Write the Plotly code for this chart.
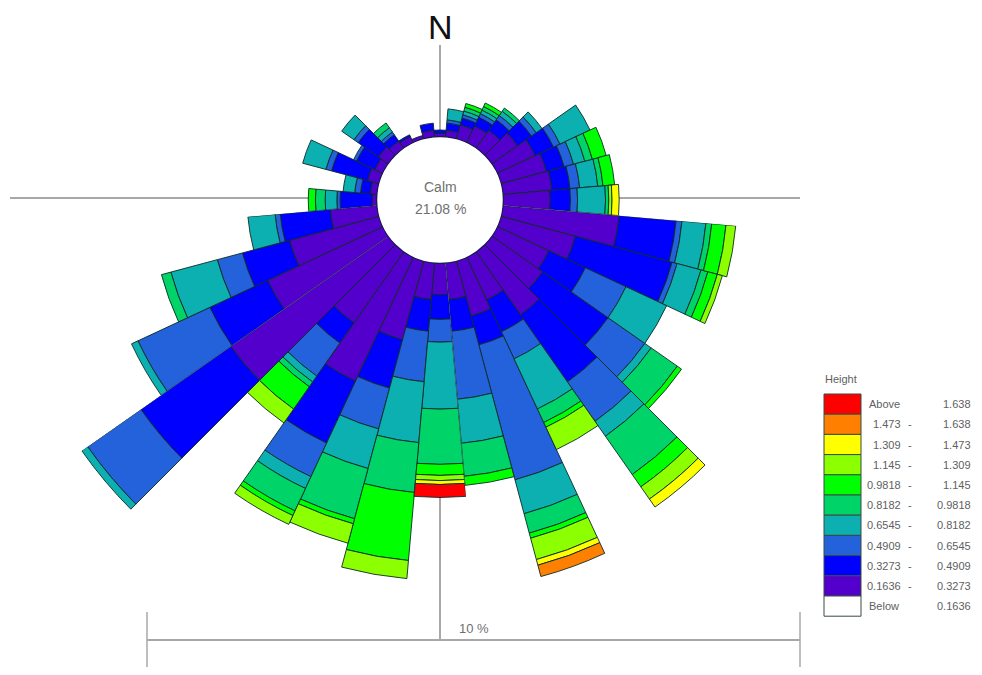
import math
import plotly.graph_objects as go

OFF = 8                      # page body margin of the html page; positions below are window pixels
W, H = 982 - OFF, 675 - 2 * OFF

# ---------------- data ----------------
directions = [0, 10, 20, 30, 40, 50, 60, 70, 80, 90, 100, 110, 120, 130, 140, 150, 160, 170,
              180, 190, 200, 210, 220, 230, 240, 250, 260, 270, 280, 290, 300, 310, 320, 330, 340, 350]

class_labels = ["Below 0.1636", "0.1636 - 0.3273", "0.3273 - 0.4909", "0.4909 - 0.6545",
                "0.6545 - 0.8182", "0.8182 - 0.9818", "0.9818 - 1.145", "1.145 - 1.309",
                "1.309 - 1.473", "1.473 - 1.638", "Above 1.638"]
legend_left = ["Below", "0.1636", "0.3273", "0.4909", "0.6545", "0.8182",
               "0.9818", "1.145", "1.309", "1.473", "Above"]
legend_right = ["0.1636", "0.3273", "0.4909", "0.6545", "0.8182", "0.9818",
                "1.145", "1.309", "1.473", "1.638", "1.638"]
class_colors = ["#ffffff", "#5400cc", "#0000ff", "#2462dc", "#0cb0b0", "#00d468",
                "#00ff00", "#8cff00", "#ffff00", "#ff8000", "#ff0000"]

# frequency (%) per direction for each class
freq_below = [0, 0, 0, 0, 0, 0, 0, 0, 0, 0, 0, 0, 0, 0, 0, 0, 0, 0,
              0, 0, 0, 0, 0, 0, 0, 0, 0, 0, 0, 0, 0, 0, 0, 0, 0, 0]
freq_p = [0.05, 0.10, 0.22, 0.28, 0.33, 0.48, 0.64, 0.72, 0.75, 0.72, 1.79, 1.18, 0.87, 0.95, 1.18, 0.72, 0.87, 0.56,
          0.48, 0.56, 1.25, 2.10, 1.33, 2.95, 1.95, 1.42, 0.72, 0.07, 0.10, 0.18, 0.13, 0.18, 0.13, 0.10, 0.05, 0.10]
freq_b = [0.05, 0.11, 0.11, 0.15, 0.20, 0.26, 0.31, 0.28, 0.28, 0.31, 0.88, 1.54, 0.62, 1.23, 1.26, 0.54, 0.46, 0.49,
          0.38, 0.49, 0.77, 1.05, 0.38, 1.69, 0.98, 0.75, 0.77, 0.49, 0.15, 0.57, 0.31, 0.38, 0.12, 0.03, 0.00, 0.11]
freq_m = [0.00, 0.05, 0.05, 0.06, 0.08, 0.09, 0.11, 0.15, 0.15, 0.11, 0.09, 0.08, 0.69, 0.69, 0.74, 0.46, 2.15, 1.05,
          0.35, 0.78, 0.65, 0.57, 0.62, 1.00, 1.22, 0.40, 0.08, 0.05, 0.09, 0.09, 0.05, 0.08, 0.05, 0.00, 0.00, 0.00]
freq_t = [0.00, 0.17, 0.06, 0.06, 0.08, 0.11, 0.51, 0.18, 0.28, 0.43, 0.37, 0.38, 0.69, 0.12, 0.28, 0.85, 0.54, 0.68,
          1.03, 0.94, 0.63, 0.20, 0.11, 0.11, 0.11, 0.74, 0.42, 0.18, 0.18, 0.37, 0.00, 0.23, 0.08, 0.00, 0.00, 0.00]
freq_g1 = [0.00, 0.00, 0.06, 0.06, 0.06, 0.00, 0.00, 0.12, 0.08, 0.05, 0.09, 0.11, 0.00, 0.49, 0.72, 0.23, 0.31, 0.51,
           0.85, 0.77, 0.80, 0.38, 0.09, 0.00, 0.00, 0.15, 0.00, 0.15, 0.00, 0.00, 0.00, 0.00, 0.09, 0.00, 0.00, 0.00]
freq_g2 = [0.00, 0.00, 0.06, 0.06, 0.00, 0.00, 0.00, 0.22, 0.18, 0.00, 0.22, 0.15, 0.00, 0.08, 0.23, 0.08, 0.08, 0.14,
           0.17, 1.05, 0.08, 0.08, 0.42, 0.00, 0.00, 0.00, 0.00, 0.11, 0.00, 0.00, 0.00, 0.00, 0.00, 0.00, 0.00, 0.00]
freq_yg = [0.00, 0.00, 0.00, 0.00, 0.00, 0.00, 0.00, 0.00, 0.00, 0.05, 0.15, 0.08, 0.00, 0.00, 0.23, 0.38, 0.34, 0.00,
           0.08, 0.28, 0.31, 0.15, 0.26, 0.00, 0.00, 0.00, 0.00, 0.00, 0.00, 0.00, 0.00, 0.00, 0.00, 0.00, 0.00, 0.00]
freq_y = [0.00, 0.00, 0.00, 0.00, 0.00, 0.00, 0.00, 0.00, 0.00, 0.11, 0.00, 0.00, 0.00, 0.00, 0.15, 0.00, 0.09, 0.00,
          0.06, 0.00, 0.00, 0.00, 0.00, 0.00, 0.00, 0.00, 0.00, 0.00, 0.00, 0.00, 0.00, 0.00, 0.00, 0.00, 0.00, 0.00]
freq_o = [0.00, 0.00, 0.00, 0.00, 0.00, 0.00, 0.00, 0.00, 0.00, 0.00, 0.00, 0.00, 0.00, 0.00, 0.00, 0.00, 0.18, 0.00,
          0.00, 0.00, 0.00, 0.00, 0.00, 0.00, 0.00, 0.00, 0.00, 0.00, 0.00, 0.00, 0.00, 0.00, 0.00, 0.00, 0.00, 0.00]
freq_r = [0.00, 0.00, 0.00, 0.00, 0.00, 0.00, 0.00, 0.00, 0.00, 0.00, 0.00, 0.00, 0.00, 0.00, 0.00, 0.00, 0.00, 0.00,
          0.20, 0.00, 0.00, 0.00, 0.00, 0.00, 0.00, 0.00, 0.00, 0.00, 0.00, 0.00, 0.00, 0.00, 0.00, 0.00, 0.00, 0.00]

calm_label = "Calm"
calm_pct = "21.08 %"
scale_label = "10 %"
legend_title = "Height"

series = [freq_below, freq_p, freq_b, freq_m, freq_t, freq_g1, freq_g2, freq_yg, freq_y, freq_o, freq_r]

# ---------------- geometry (window pixels) ----------------
CX, CY = 440.0, 200.0      # rose centre
HOLE_PX = 63.5             # calm circle radius
PX_PER_PCT = 65.0          # radial scale


def px_x(x):
    return (x - OFF) / W


def px_y(y):
    return 1 - (y - OFF) / H


def sector_bbox(s0, s1):
    arc = s1 - s0
    a0 = s0 % 360
    a1 = a0 + arc
    c = lambda a: math.cos(math.radians(a))
    s = lambda a: math.sin(math.radians(a))
    ax0, ay0, ax1, ay1 = c(a0), s(a0), c(a1), s(a1)
    if (a0 <= 90 and a1 >= 90) or (a0 > 90 and a1 >= 450):
        y1 = 1
    elif ay0 <= 0 and ay1 <= 0:
        y1 = 0
    else:
        y1 = max(ay0, ay1)
    if (a0 <= 180 and a1 >= 180) or (a0 > 180 and a1 >= 540):
        x0 = -1
    elif ax0 >= 0 and ax1 >= 0:
        x0 = 0
    else:
        x0 = min(ax0, ax1)
    if (a0 <= 270 and a1 >= 270) or (a0 > 270 and a1 >= 630):
        y0 = -1
    elif ay0 >= 0 and ay1 >= 0:
        y0 = 0
    else:
        y0 = min(ay0, ay1)
    if a1 >= 360:
        x1 = 1
    elif ax0 <= 0 and ax1 <= 0:
        x1 = 0
    else:
        x1 = max(ax0, ax1)
    return x0, y0, x1, y1


# polar subplots sharing one centre and one radial scale, each showing one angular sector
subplots = [
    ("polar", [-5, 185], 190.0, lambda d: d >= 270 or d <= 90),
    ("polar2", [-85, -5], 400.0, lambda d: 100 <= d <= 170),
    ("polar3", [215, 275], 445.0, lambda d: 180 <= d <= 230),
    ("polar4", [185, 215], 350.0, lambda d: 240 <= d <= 260),
]

fig = go.Figure()
layout_polars = {}
for name, sector, R, keep in subplots:
    x0, y0, x1, y1 = sector_bbox(*sector)
    left, right = CX + R * x0, CX + R * x1
    top, bottom = CY - R * y1, CY - R * y0
    dom_x = [max(0.0, px_x(left)), min(1.0, px_x(right))]
    dom_y = [max(0.0, px_y(bottom)), min(1.0, px_y(top))]
    idx = [i for i, d in enumerate(directions) if keep(d)]
    for lab, col, vals in zip(class_labels, class_colors, series):
        fig.add_trace(go.Barpolar(
            r=[vals[i] for i in idx],
            theta=[directions[i] for i in idx],
            width=[10] * len(idx),
            marker=dict(color=col, line=dict(color="#0b2b26", width=0.9)),
            name=lab, subplot=name, showlegend=False, hoverinfo="skip",
        ))
    layout_polars[name] = dict(
        domain=dict(x=dom_x, y=dom_y),
        sector=sector,
        hole=HOLE_PX / R,
        bgcolor="rgba(0,0,0,0)",
        barmode="stack",
        radialaxis=dict(visible=False, range=[0, (R - HOLE_PX) / PX_PER_PCT]),
        angularaxis=dict(visible=False, rotation=90, direction="clockwise"),
    )

shapes = []
line_grey = "#a8a8a8"
# cross hairs
shapes.append(dict(type="line", xref="paper", yref="paper", layer="below",
                   x0=px_x(10), x1=px_x(800), y0=px_y(198), y1=px_y(198),
                   line=dict(color=line_grey, width=2)))
shapes.append(dict(type="line", xref="paper", yref="paper", layer="below",
                   x0=px_x(CX), x1=px_x(CX), y0=px_y(45), y1=px_y(640),
                   line=dict(color=line_grey, width=2)))
# calm circle
shapes.append(dict(type="circle", xref="paper", yref="paper", layer="below",
                   x0=px_x(CX - HOLE_PX), x1=px_x(CX + HOLE_PX),
                   y0=px_y(CY + HOLE_PX), y1=px_y(CY - HOLE_PX),
                   fillcolor="white", line=dict(color="#1a1060", width=1.5)))
# scale bar
shapes.append(dict(type="line", xref="paper", yref="paper", layer="below",
                   x0=px_x(147), x1=px_x(800), y0=px_y(640), y1=px_y(640),
                   line=dict(color=line_grey, width=2)))
for xx in (147, 800):
    shapes.append(dict(type="line", xref="paper", yref="paper", layer="below",
                       x0=px_x(xx), x1=px_x(xx), y0=px_y(612), y1=px_y(667),
                       line=dict(color=line_grey, width=1.5)))

annotations = []
font_family = "Arial, Liberation Sans, sans-serif"


def text(t, x, y, size, color, xanchor="center"):
    annotations.append(dict(text=t, x=px_x(x), y=px_y(y), xref="paper", yref="paper",
                            xanchor=xanchor, yanchor="middle", showarrow=False,
                            font=dict(size=size, color=color, family=font_family)))


text("N", CX, 27, 34, "#111111")
text(calm_label, CX, 187, 14, "#707070")
text(calm_pct, CX, 209, 14, "#707070")
text(scale_label, 474, 628, 13, "#707070")

# legend (top row = highest class)
text(legend_title, 823, 379, 11, "#606060", xanchor="left")
row_top, row_h = 394.0, 20.2
sw_x0, sw_x1 = 824, 861
n = len(class_labels)
for k in range(n):
    ci = n - 1 - k
    y_top = row_top + k * row_h
    y_bot = y_top + row_h
    shapes.append(dict(type="rect", xref="paper", yref="paper",
                       x0=px_x(sw_x0), x1=px_x(sw_x1), y0=px_y(y_bot), y1=px_y(y_top),
                       fillcolor=class_colors[ci], line=dict(color="#3a4a40", width=1)))
    ym = (y_top + y_bot) / 2
    left_txt = legend_left[ci]
    if left_txt in ("Above", "Below"):
        text(left_txt, 867, ym, 11, "#606060", xanchor="left")
    else:
        text(left_txt, 903, ym, 11, "#606060", xanchor="right")
        text("-", 910, ym, 11, "#606060")
    text(legend_right[ci], 973, ym, 11, "#606060", xanchor="right")

fig.update_layout(
    width=W, height=H, autosize=False,
    margin=dict(l=0, r=0, t=0, b=0),
    paper_bgcolor="white", plot_bgcolor="white",
    showlegend=False,
    shapes=shapes, annotations=annotations,
    **layout_polars,
)

fig.write_html("out.html")
